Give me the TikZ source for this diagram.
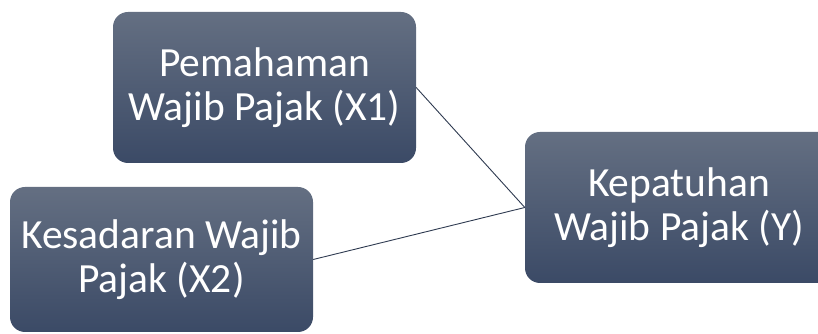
\documentclass[tikz,border=0pt]{standalone}
\usepackage{fontspec}
\setmainfont{Carlito}
\definecolor{boxtop}{HTML}{646F82}
\definecolor{boxbot}{HTML}{3B4A66}
\definecolor{linec}{HTML}{2E3A50}
\begin{document}
\begin{tikzpicture}[x=1pt,y=1pt,
  box/.style={rounded corners=15pt, top color=boxtop, bottom color=boxbot, draw=none,
    text=white, align=center, inner sep=0pt,
    font=\fontsize{41.5}{44}\selectfont},
  link/.style={draw=linec, line width=0.9pt}]
\useasboundingbox (0,0) rectangle (818,334);
\clip (0,0) rectangle (818,334);
\node[box, minimum width=303pt, minimum height=151pt] (x1) at (264.5,246.5) {Pemahaman\\Wajib Pajak (X1)};
\node[box, minimum width=303pt, minimum height=145pt] (x2) at (161.5,74.5) {Kesadaran Wajib\\Pajak (X2)};
\node[box, minimum width=308pt, minimum height=151pt] (y) at (679,126.5) {Kepatuhan\\Wajib Pajak (Y)};
\draw[link] (x1.east) -- (y.west);
\draw[link] (x2.east) -- (y.west);
\end{tikzpicture}
\end{document}
